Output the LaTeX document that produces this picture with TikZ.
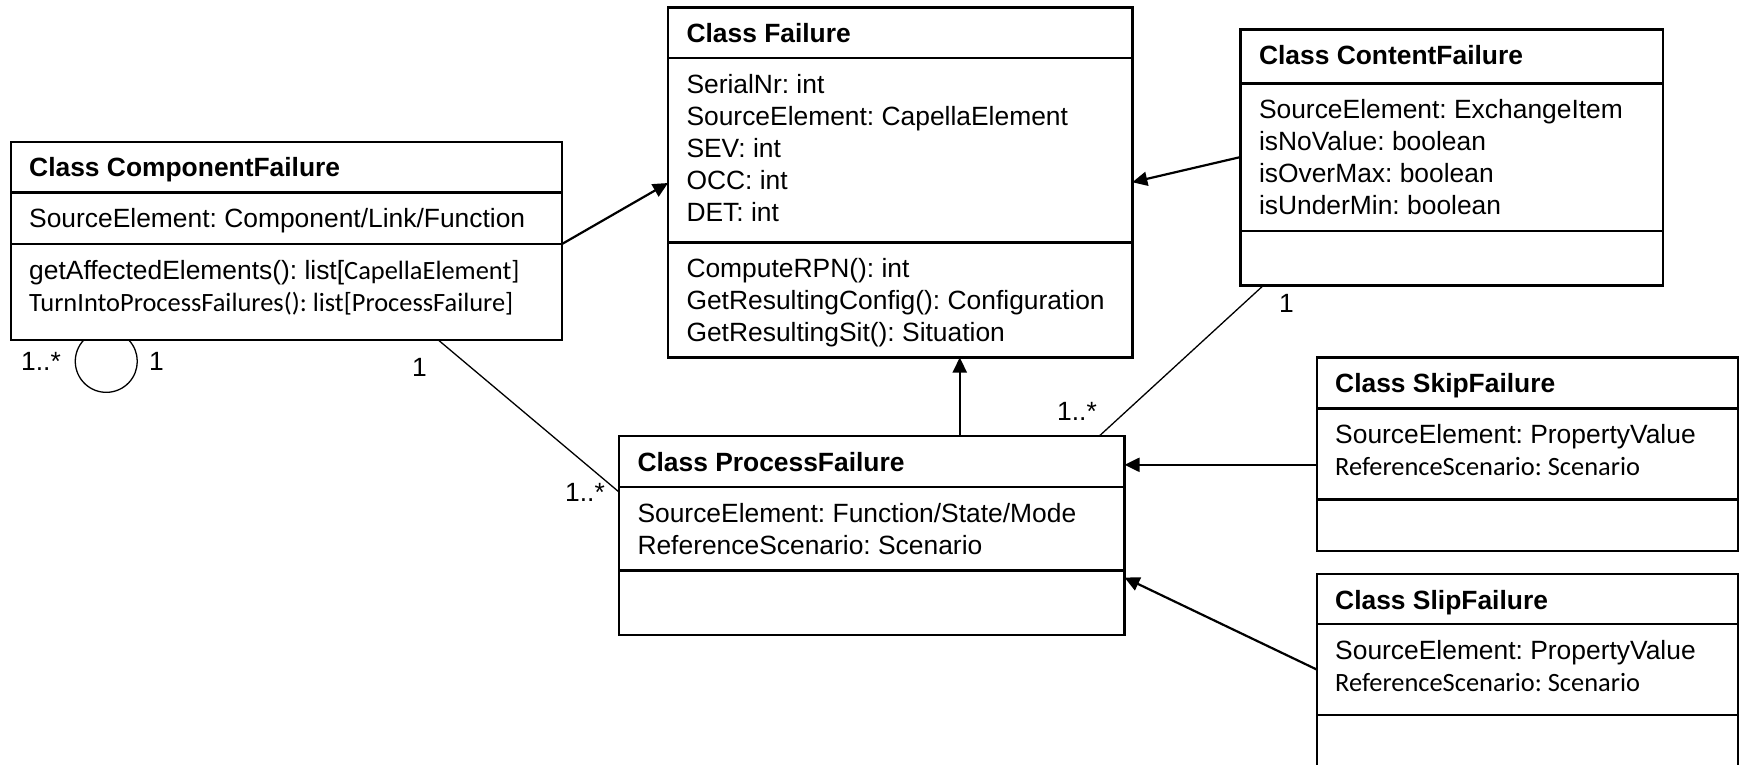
\documentclass[tikz,border=0pt]{standalone}
\usepackage{fontspec}
\setmainfont{Liberation Sans}
\newfontfamily\calibri{Carlito}
\frenchspacing
\usetikzlibrary{positioning}
\usetikzlibrary{arrows.meta}

% one compartment of a class box: width, height, lines
\newcommand{\cbox}[3]{\parbox[t][#2][t]{#1}{\raggedright\rule{0pt}{35pt}#3}}

\tikzset{
  part/.style={draw, line width=2.4pt, fill=white, inner xsep=18.5pt, inner ysep=0pt, outer sep=0pt, anchor=north west},
  genarrow/.style={line width=2.2pt, -{Triangle[length=15pt,width=14pt]}},
  assoc/.style={line width=1.3pt},
  mult/.style={inner sep=0pt, anchor=base west}
}

\begin{document}
\begin{tikzpicture}[x=1pt,y=-1pt,font=\fontsize{26.4}{32}\selectfont]
        \useasboundingbox (0,0) rectangle (1742,764);
        \clip (0,0) rectangle (1742,764);

        % Class ComponentFailure
        \node[part] (CompTitle) at (10.7,141.7) {\cbox{514.3pt}{50.8pt}{\textbf{Class ComponentFailure}}};
        \node[part, below=0pt of CompTitle] (CompAttr) {\cbox{514.3pt}{51.5pt}{SourceElement: Component/Link/Function}};
        \node[part, below=0pt of CompAttr] (CompMeth) {\cbox{514.3pt}{96pt}{getAffectedElements(): list[{\calibri CapellaElement]}\\ {\calibri TurnIntoProcessFailures(): list[ProcessFailure]}}};

        % Class Failure
        \node[part] (FailTitle) at (668,7.5) {\cbox{427.3pt}{50.7pt}{\textbf{Class Failure}}};
        \node[part, below=0pt of FailTitle] (FailAttr) {\cbox{427.3pt}{184.1pt}{SerialNr: int\\ SourceElement: CapellaElement\\ SEV: int\\ OCC: int\\ DET: int}};
        \node[part, below=0pt of FailAttr] (FailMeth) {\cbox{427.3pt}{115.2pt}{ComputeRPN(): int\\ GetResultingConfig(): Configuration\\ GetResultingSit(): Situation}};

        % Class ContentFailure
        \node[part] (ContTitle) at (1240.5,29.5) {\cbox{385.5pt}{53.8pt}{\textbf{Class ContentFailure}}};
        \node[part, below=0pt of ContTitle] (ContAttr) {\cbox{385.5pt}{147.5pt}{SourceElement: ExchangeItem\\ isNoValue: boolean\\ isOverMax: boolean\\ isUnderMin: boolean}};
        \node[part, below=0pt of ContAttr] (ContMeth) {\cbox{385.5pt}{54.7pt}{}};

        % Class ProcessFailure
        \node[part] (ProcTitle) at (619,436) {\cbox{468.5pt}{51pt}{\textbf{Class ProcessFailure}}};
        \node[part, below=0pt of ProcTitle] (ProcAttr) {\cbox{468.5pt}{83.5pt}{SourceElement: Function/State/Mode\\ ReferenceScenario: Scenario}};
        \node[part, below=0pt of ProcAttr] (ProcMeth) {\cbox{468.5pt}{64.5pt}{}};

        % Class SkipFailure
        \node[part] (SkipTitle) at (1316.7,357.3) {\cbox{384.3pt}{51pt}{\textbf{Class SkipFailure}}};
        \node[part, below=0pt of SkipTitle] (SkipAttr) {\cbox{384.3pt}{91pt}{SourceElement: PropertyValue\\ {\calibri ReferenceScenario: Scenario}}};
        \node[part, below=0pt of SkipAttr] (SkipMeth) {\cbox{384.3pt}{51.7pt}{}};

        % Class SlipFailure
        \node[part] (SlipTitle) at (1316.7,574) {\cbox{384.3pt}{50pt}{\textbf{Class SlipFailure}}};
        \node[part, below=0pt of SlipTitle] (SlipAttr) {\cbox{384.3pt}{91pt}{SourceElement: PropertyValue\\ {\calibri ReferenceScenario: Scenario}}};
        \node[part, below=0pt of SlipAttr] (SlipMeth) {\cbox{384.3pt}{80pt}{}};

        % inheritance
        \draw[genarrow] (CompAttr.south east) -- ([yshift=59.3pt]FailAttr.south west);
        \draw[genarrow] (ContAttr.west) -- ([yshift=-32pt]FailAttr.east);
        \draw[genarrow] ([xshift=88pt]ProcTitle.north) -- ([xshift=88pt]ProcTitle.north |- FailMeth.south);
        \draw[genarrow] ([yshift=-11pt]SkipAttr.west) -- ([yshift=-11pt]SkipAttr.west -| ProcTitle.east);
        \draw[genarrow] (SlipAttr.west) -- ([yshift=-7pt]ProcMeth.north east);

        % associations
        \draw[assoc] ([xshift=-123.7pt]CompMeth.south east) -- ([yshift=-5pt]ProcAttr.north west);
        \draw[assoc] ([xshift=22.8pt]ContMeth.south west) -- ([xshift=-25.2pt]ProcTitle.north east);
        \draw[assoc] ([xshift=73.1pt]CompMeth.south west) arc[start angle=136.5, end angle=403.5, radius=31pt];

        \node[mult] (CompSelfMany) at (21,370) {1..*};
        \node[mult] (CompSelfOne) at (149,370) {1};
        \node[mult] (CompProcOne) at (412,376.7) {1};
        \node[mult] (ProcCompMany) at (565,501.7) {1..*};
        \node[mult] (ProcContMany) at (1057,420.7) {1..*};
        \node[mult] (ContProcOne) at (1279,312.7) {1};
    \end{tikzpicture}
\end{document}
